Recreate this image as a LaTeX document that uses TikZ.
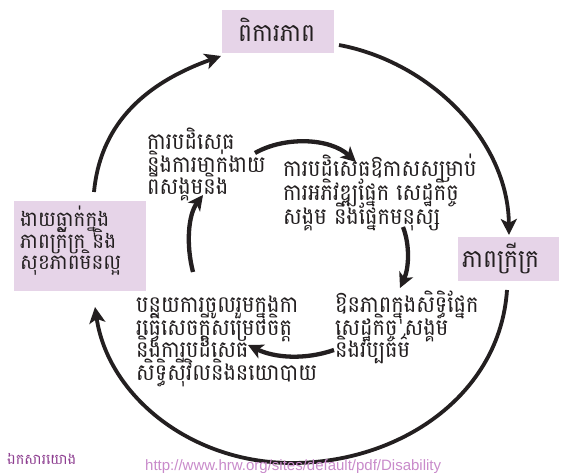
\documentclass[tikz,border=0pt]{standalone}
\usepackage{fontspec}
\newfontfamily\khmer[Script=Khmer]{Battambang}
\newfontfamily\kin[Script=Khmer,FakeStretch=0.91]{Battambang}
\newfontfamily\ktitle[Script=Khmer,FakeStretch=0.94]{Battambang}
\newfontfamily\kbox[Script=Khmer,FakeStretch=0.95]{Battambang}
\newfontfamily\latinf{Liberation Sans}
\usetikzlibrary{arrows.meta}
\definecolor{boxfill}{HTML}{E6D4E8}
\definecolor{ink}{HTML}{231F20}
\definecolor{srcA}{HTML}{8E3F91}
\definecolor{srcB}{HTML}{C98BCB}
\newcommand\klines[2]{\vtop{\baselineskip=#1\lineskiplimit=-100pt\lineskip=0pt #2}}
\tikzset{
  box/.style={fill=boxfill, draw=none, inner sep=0pt, anchor=north west},
  title/.style={anchor=base west, inner sep=0pt, text=ink, font=\ktitle\fontsize{25}{25}\selectfont},
  boxtext/.style={anchor=base west, inner sep=0pt, text=ink, font=\kbox\fontsize{21}{21.5}\selectfont},
  intext/.style={anchor=base west, inner sep=0pt, text=ink, font=\kin\fontsize{23}{23}\selectfont},
  outer/.style={draw=ink, line width=3.8pt, -{Stealth[length=16pt,width=16pt,inset=4pt]}},
  inner/.style={draw=ink, line width=4.3pt, -{Stealth[length=15pt,width=15pt,inset=4pt]}},
}
\begin{document}
\begin{tikzpicture}[x=1pt,y=-1pt]
\useasboundingbox (0,0) rectangle (565,473);
\fill[white] (0,0) rectangle (565,473);
% boxes
\node[box, minimum width=112pt, minimum height=43pt] (topbox) at (222,10) {};
\node[box, minimum width=101pt, minimum height=44pt] (rightbox) at (458,237) {};
\node[box, minimum width=132pt, minimum height=90pt] (leftbox) at (14,201) {};
\node[title] (toptext) at (238,42) {ពិការភាព};
\node[title] (righttext) at (462,268) {ភាពក្រីក្រ};
\node[boxtext] (lefttext) at (20,227) {\klines{21.5pt}{\hbox{ងាយធ្លាក់ក្នុង}\hbox{ភាពក្រីក្រ និង}\hbox{សុខភាពមិនល្អ}}};
% inner texts
\node[intext] (t1) at (147,150) {\klines{22.5pt}{\hbox{ការបដិសេធ}\hbox{និងការមាក់ងាយ}\hbox{ពីសង្គមនិង}}};
\node[intext] (t2) at (283,177) {\klines{24pt}{\hbox{ការបដិសេធឱកាសសម្រាប់}\hbox{ការអភិវឌ្ឍផ្នែក សេដ្ឋកិច្ច}\hbox{សង្គម និងផ្នែកមនុស្ស}}};
\node[intext] (t3) at (335,312) {\klines{23pt}{\hbox{ឱនភាពក្នុងសិទ្ធិផ្នែក}\hbox{សេដ្ឋកិច្ច សង្គម}\hbox{និងវប្បធម៌}}};
\node[intext] (t4) at (136,312) {\klines{23pt}{\hbox{បន្ថយការចូលរួមក្នុងកា}\hbox{រធ្វើសេចក្តីសម្រេចចិត្ត}\hbox{និងការបដិសេធ}\hbox{សិទ្ធិស៊ីវិលនិងនយោបាយ}}};
% connector endpoints
\coordinate (a1) at (339,45);
\coordinate (a2) at (509,235);
\coordinate (b1) at (507,290);
\coordinate (bm) at (292,463);
\coordinate (b2) at (95,307);
\coordinate (c1) at (94,192);
\coordinate (c2) at (221,56);
\coordinate (i1s) at (255,153);
\coordinate (i1e) at (356,162);
\coordinate (i2s) at (403,227);
\coordinate (i2e) at (400,288);
\coordinate (i3s) at (334,350);
\coordinate (i3e) at (248,345);
\coordinate (i4s) at (193,272);
\coordinate (i4e) at (203,195);
% outer cycle
\draw[outer] (a1) .. controls (430,62) and (508,140) .. (a2);
\draw[outer] (b1) .. controls (500,395) and (400,463) .. (bm) .. controls (190,463) and (108,395) .. (b2);
\draw[outer] (c1) .. controls (100,128) and (140,85) .. (c2);
% inner cycle
\draw[inner] (i1s) .. controls (285,136) and (330,138) .. (i1e);
\draw[inner] (i2s) .. controls (410,245) and (409,268) .. (i2e);
\draw[inner] (i3s) .. controls (305,360) and (275,358) .. (i3e);
\draw[inner] (i4s) .. controls (186,245) and (188,215) .. (i4e);
% source line
\node[anchor=base west, inner sep=0pt, text=srcA, font=\khmer\fontsize{14.5}{15}\selectfont] (src) at (7,464) {ឯកសារយោង};
\node[anchor=base west, inner sep=0pt, text=srcB, font=\latinf\fontsize{15}{16}\selectfont] (url) at (145,470) {http://www.hrw.org/sites/default/pdf/Disability};
\end{tikzpicture}
\end{document}
